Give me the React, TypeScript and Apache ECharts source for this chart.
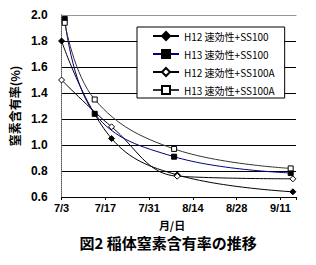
import React, { useEffect, useRef } from "react";
import * as echarts from "echarts";

// days after 7/3
const xTickLabels = ["7/3", "7/17", "7/31", "8/14", "8/28", "9/11"];
const seriesNames = [
  "H12 速効性+SS100",
  "H13 速効性+SS100",
  "H12 速効性+SS100A",
  "H13 速効性+SS100A",
];
const h12Days = [0, 16, 37, 74];
const h13Days = [1, 10.6, 36, 73.3];
const h12SS100 = [1.8, 1.05, 0.77, 0.64];
const h13SS100 = [1.97, 1.24, 0.91, 0.785];
const h12SS100A = [1.5, 1.14, 0.76, 0.74];
const h13SS100A = [1.94, 1.35, 0.97, 0.82];

const pair = (xs: number[], ys: number[]) => xs.map((x, i) => [x, ys[i]]);

export default function App() {
  const ref = useRef<HTMLDivElement>(null);
  useEffect(() => {
    document.body.style.margin = "0";
    if (!ref.current) return;
    const chart = echarts.init(ref.current, undefined, { renderer: "svg" });
    const jp = "'Noto Sans CJK JP', sans-serif";
    const lat = "'Liberation Sans', Arial, sans-serif";
    const mk = (
      name: string,
      data: number[][],
      symbol: string,
      size: number,
      fill: string,
      line: string,
      z: number
    ) => ({
      name,
      type: "line",
      data,
      symbol,
      symbolSize: size,
      smooth: 0.4,
      z,
      lineStyle: { color: line, width: 1 },
      itemStyle: { color: fill, borderColor: "#000", borderWidth: 1 },
      xAxisIndex: 0,
      yAxisIndex: 0,
    });
    chart.setOption({
      animation: false,
      backgroundColor: "#fff",
      grid: { left: 59, top: 15, right: 20, bottom: 68 },
      legend: {
        orient: "vertical",
        left: 137,
        top: 27,
        padding: [4, 10, 3, 15],
        itemGap: 8,
        itemWidth: 26,
        itemHeight: 10,
        backgroundColor: "#fff",
        borderColor: "#000",
        borderWidth: 1,
        textStyle: { fontFamily: jp, fontSize: 10, color: "#000" },
        data: seriesNames,
      },
      xAxis: [
        {
          type: "value",
          min: 0,
          max: 75,
          interval: 14,
          axisLine: { lineStyle: { color: "#000", width: 1 } },
          axisTick: { show: true, length: 3, lineStyle: { color: "#000" } },
          splitLine: { show: false },
          axisLabel: {
            margin: 5,
            fontFamily: lat,
            fontWeight: "bold",
            fontSize: 11,
            color: "#000",
            formatter: (v: number) =>
              v % 14 === 0 ? xTickLabels[v / 14] ?? "" : "",
          },
        },
        {
          type: "value",
          position: "top",
          min: 0,
          max: 75,
          axisLine: { show: true, lineStyle: { color: "#888", type: "dotted" } },
          axisTick: { show: false },
          axisLabel: { show: false },
          splitLine: { show: false },
        },
      ],
      yAxis: [
        {
          type: "value",
          min: 0.6,
          max: 2.0,
          interval: 0.2,
          name: "窒素含有率(%)",
          nameLocation: "middle",
          nameRotate: 90,
          nameGap: 38,
          nameTextStyle: {
            fontFamily: jp,
            fontSize: 12,
            fontWeight: "bold",
            color: "#000",
          },
          axisLine: { show: true, lineStyle: { color: "#000", width: 1 } },
          axisTick: { show: false },
          splitLine: {
            show: true,
            showMaxLine: false,
            lineStyle: { color: "#000", width: 1 },
          },
          axisLabel: {
            margin: 14,
            fontFamily: lat,
            fontWeight: "bold",
            fontSize: 12,
            color: "#000",
            formatter: (v: number) => v.toFixed(1),
          },
        },
        {
          type: "value",
          position: "right",
          min: 0.6,
          max: 2.0,
          axisLine: { show: true, lineStyle: { color: "#888", type: "dotted" } },
          axisTick: { show: false },
          axisLabel: { show: false },
          splitLine: { show: false },
        },
      ],
      series: [
        mk(seriesNames[0], pair(h12Days, h12SS100), "diamond", 6, "#000", "#000", 2),
        mk(seriesNames[1], pair(h13Days, h13SS100), "rect", 5, "#000", "#000080", 4),
        mk(seriesNames[2], pair(h12Days, h12SS100A), "diamond", 6, "#fff", "#000", 3),
        mk(seriesNames[3], pair(h13Days, h13SS100A), "rect", 5, "#fff", "#333", 5),
      ],
      graphic: [
        {
          type: "text",
          x: 172,
          y: 225,
          style: {
            text: "月/日",
            fontFamily: jp,
            fontSize: 11,
            fontWeight: "bold",
            fill: "#000",
            align: "center",
            verticalAlign: "middle",
          },
        },
        {
          type: "text",
          x: 168,
          y: 242,
          style: {
            text: "図2 稲体窒素含有率の推移",
            fontFamily: jp,
            fontSize: 15,
            fontWeight: "bold",
            fill: "#000",
            align: "center",
            verticalAlign: "middle",
          },
        },
      ],
    });
    return () => chart.dispose();
  }, []);
  return <div ref={ref} style={{ width: 316, height: 265 }} />;
}
